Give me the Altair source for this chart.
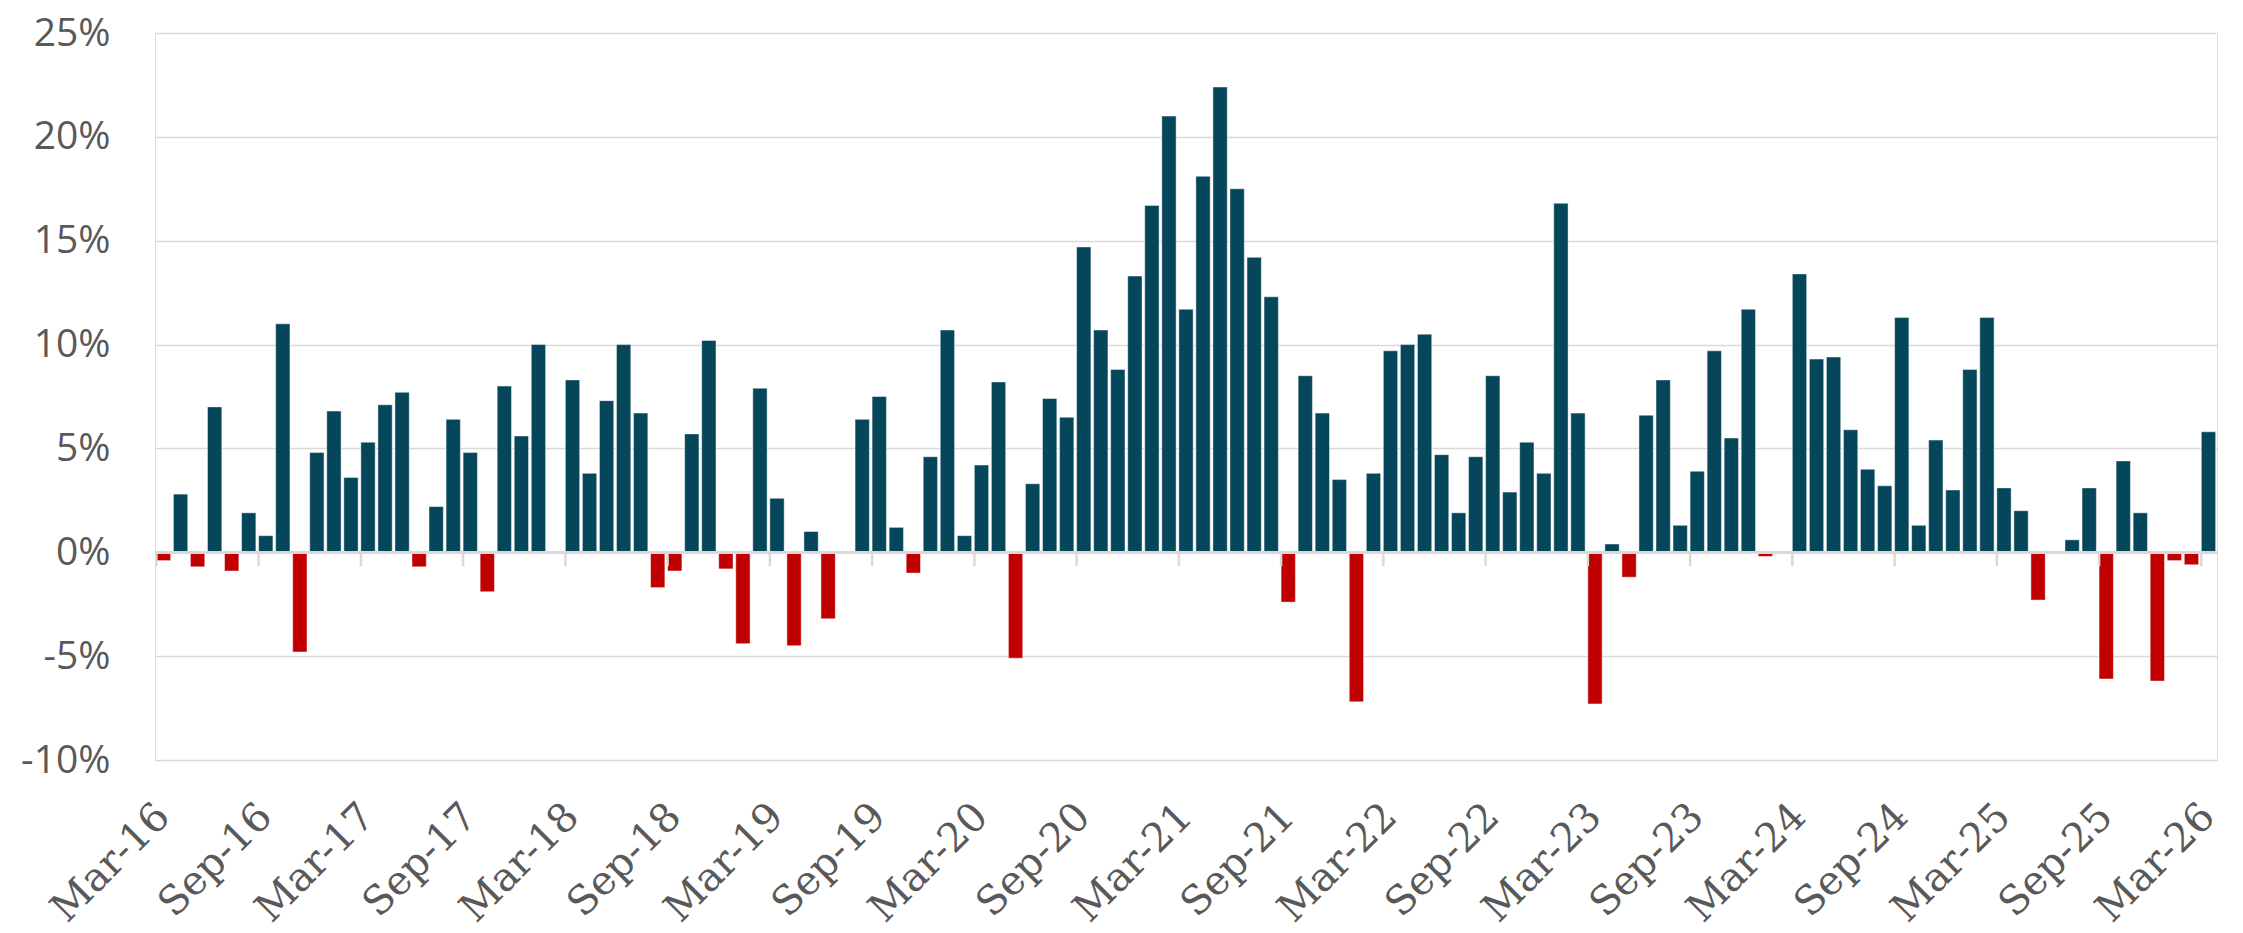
import altair as alt
import pandas as pd

# Monthly values (%), Mar-2016 .. Mar-2026
V2016 = [-0.4, 2.8, -0.7, 7.0, -0.9, 1.9, 0.8, 11.0, -4.8, 4.8]  # Mar..Dec
V2017 = [6.8, 3.6, 5.3, 7.1, 7.7, -0.7, 2.2, 6.4, 4.8, -1.9, 8.0, 5.6]
V2018 = [10.0, 0.0, 8.3, 3.8, 7.3, 10.0, 6.7, -1.7, -0.9, 5.7, 10.2, -0.8]
V2019 = [-4.4, 7.9, 2.6, -4.5, 1.0, -3.2, 0.0, 6.4, 7.5, 1.2, -1.0, 4.6]
V2020 = [10.7, 0.8, 4.2, 8.2, -5.1, 3.3, 7.4, 6.5, 14.7, 10.7, 8.8, 13.3]
V2021 = [16.7, 21.0, 11.7, 18.1, 22.4, 17.5, 14.2, 12.3, -2.4, 8.5, 6.7, 3.5]
V2022 = [-7.2, 3.8, 9.7, 10.0, 10.5, 4.7, 1.9, 4.6, 8.5, 2.9, 5.3, 3.8]
V2023 = [16.8, 6.7, -7.3, 0.4, -1.2, 6.6, 8.3, 1.3, 3.9, 9.7, 5.5, 11.7]
V2024 = [-0.2, 0.0, 13.4, 9.3, 9.4, 5.9, 4.0, 3.2, 11.3, 1.3, 5.4, 3.0]
V2025 = [8.8, 11.3, 3.1, 2.0, -2.3, 0.0, 0.6, 3.1, -6.1, 4.4, 1.9, -6.2]
V2026 = [-0.4, -0.6, 5.8]  # Jan..Mar

VALUES = V2016 + V2017 + V2018 + V2019 + V2020 + V2021 + V2022 + V2023 + V2024 + V2025 + V2026

MONTHS = [d.strftime("%b-%y") for d in pd.date_range("2016-03-01", "2026-03-01", freq="MS")]

AXIS_LABELS = ["Mar-16", "Sep-16", "Mar-17", "Sep-17", "Mar-18", "Sep-18", "Mar-19",
               "Sep-19", "Mar-20", "Sep-20", "Mar-21", "Sep-21", "Mar-22", "Sep-22",
               "Mar-23", "Sep-23", "Mar-24", "Sep-24", "Mar-25", "Sep-25", "Mar-26"]

Y_TICKS = [-10, -5, 0, 5, 10, 15, 20, 25]

TEAL = "#06465A"
RED = "#C00000"
GRID = "#D9D9D9"
TEXT = "#595959"

df = pd.DataFrame({"month": MONTHS, "value": VALUES})
ticks_df = pd.DataFrame({"month": AXIS_LABELS})

x_scale = alt.Scale(domain=MONTHS, paddingInner=0.16, paddingOuter=0.08)

bars = alt.Chart(df).mark_bar(stroke="white", strokeWidth=1, strokeOpacity=0.45).encode(
    x=alt.X("month:N", scale=x_scale, sort=MONTHS, title=None,
            axis=alt.Axis(values=AXIS_LABELS, labelAngle=-45, labelAlign="right",
                          labelBaseline="middle", labelPadding=50, ticks=False,
                          domain=False, grid=False, labelFont="DejaVu Serif",
                          labelFontSize=40, labelColor=TEXT, labelOverlap=False)),
    y=alt.Y("value:Q", title=None,
            scale=alt.Scale(domain=[-10, 25], nice=False, zero=False),
            axis=alt.Axis(values=Y_TICKS, labelExpr="datum.value + '%'", ticks=False,
                          domain=False, grid=True, gridColor=GRID, gridWidth=1.5,
                          labelFont="Open Sans", labelFontSize=39, labelColor=TEXT,
                          labelPadding=45, minExtent=142, maxExtent=142)),
    color=alt.condition(alt.datum.value < 0, alt.value(RED), alt.value(TEAL)),
)

zero_line = alt.Chart(df).mark_rule(color=GRID, strokeWidth=2.5).encode(
    y=alt.datum(0)
)

tick_marks = alt.Chart(ticks_df).mark_rule(color=GRID, strokeWidth=2.5).encode(
    x=alt.X("month:N", scale=x_scale, sort=MONTHS, bandPosition=0),
    y=alt.datum(0),
    y2=alt.datum(-0.67),
)

chart = alt.layer(bars, zero_line, tick_marks).properties(
    width=2062, height=727,
    padding={"left": 5, "top": 6, "right": 5, "bottom": 5},
).configure_view(stroke=None).configure(background="white")

chart.save("out.html", embed_options={"renderer": "svg", "actions": False})
